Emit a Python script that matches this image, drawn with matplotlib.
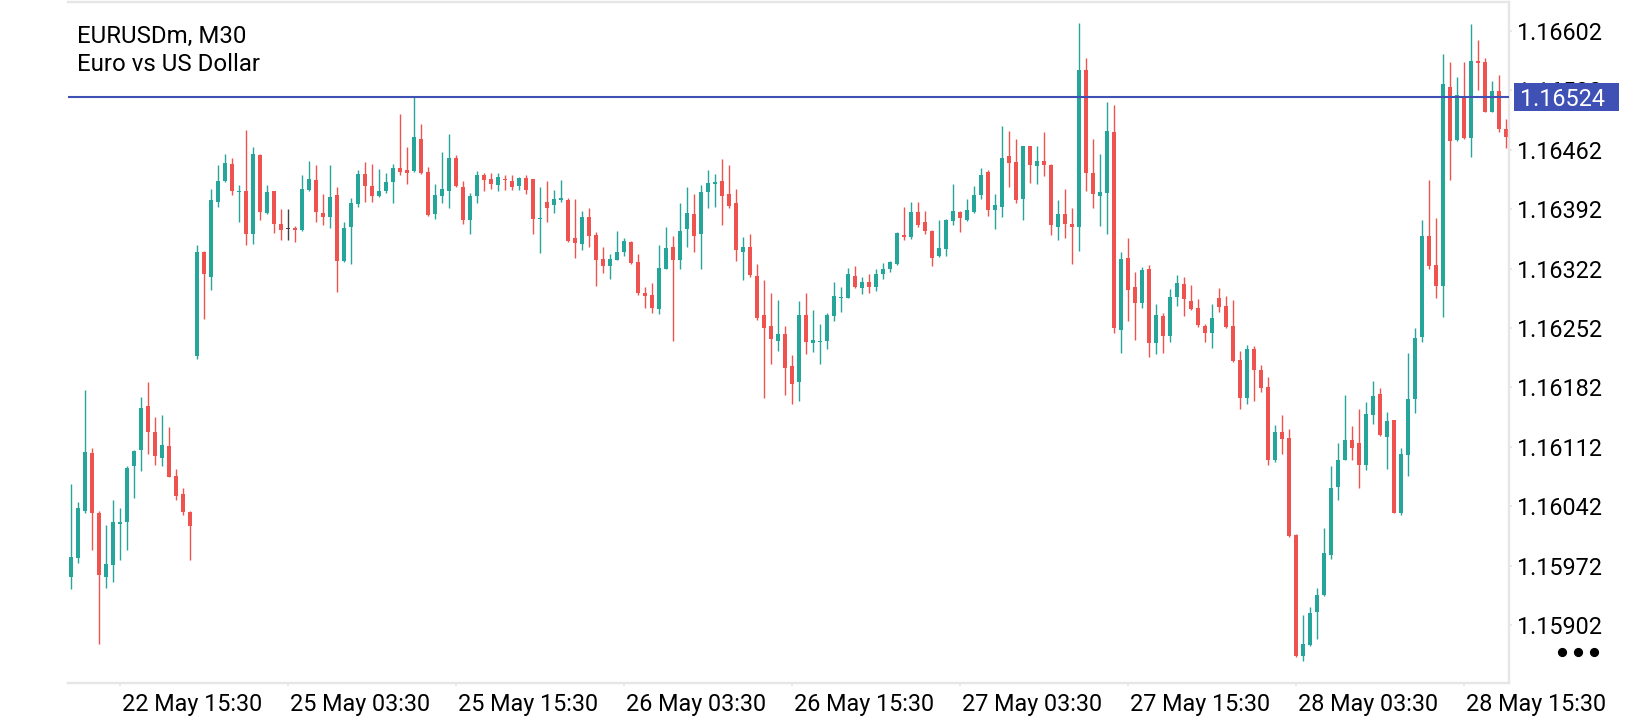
import matplotlib
matplotlib.use("Agg")
import matplotlib.pyplot as plt
import matplotlib.transforms as mtransforms
from matplotlib.patches import Rectangle
from matplotlib.lines import Line2D

plt.rcParams['font.family'] = ['Roboto', 'DejaVu Sans']

symbol_title = "EURUSDm, M30"
symbol_desc = "Euro vs US Dollar"

# M30 candles, oldest first
opens = [
    1.15959, 1.15981, 1.16036, 1.16105, 1.16034, 1.15959, 1.15973, 1.16021, 1.16023, 1.16089,
    1.16108, 1.16160, 1.16129, 1.16099, 1.16113, 1.16078, 1.16056, 1.16035, 1.16219, 1.16342,
    1.16312, 1.16401, 1.16425, 1.16445, 1.16412, 1.16413, 1.16363, 1.16456, 1.16388, 1.16413,
    1.16375, 1.16369, 1.16370, 1.16367, 1.16415, 1.16426, 1.16388, 1.16383, 1.16409, 1.16331,
    1.16371, 1.16398, 1.16434, 1.16419, 1.16407, 1.16413, 1.16424, 1.16441, 1.16438, 1.16437,
    1.16475, 1.16436, 1.16386, 1.16408, 1.16413, 1.16452, 1.16418, 1.16379, 1.16407, 1.16432,
    1.16428, 1.16420, 1.16428, 1.16425, 1.16419, 1.16429, 1.16428, 1.16380, 1.16400, 1.16397,
    1.16403, 1.16403, 1.16358, 1.16351, 1.16383, 1.16362, 1.16333, 1.16325, 1.16332, 1.16341,
    1.16353, 1.16330, 1.16293, 1.16291, 1.16274, 1.16322, 1.16347, 1.16332, 1.16369, 1.16386,
    1.16363, 1.16412, 1.16422, 1.16425, 1.16410, 1.16399, 1.16342, 1.16347, 1.16313, 1.16267,
    1.16254, 1.16237, 1.16245, 1.16207, 1.16188, 1.16267, 1.16234, 1.16235, 1.16237, 1.16266,
    1.16287, 1.16287, 1.16313, 1.16299, 1.16306, 1.16300, 1.16316, 1.16322, 1.16328, 1.16362,
    1.16359, 1.16389, 1.16377, 1.16366, 1.16337, 1.16345, 1.16378, 1.16389, 1.16379, 1.16389,
    1.16409, 1.16436, 1.16391, 1.16395, 1.16455, 1.16448, 1.16404, 1.16466, 1.16443, 1.16449,
    1.16444, 1.16371, 1.16386, 1.16374, 1.16371, 1.16556, 1.16435, 1.16408, 1.16411, 1.16483,
    1.16250, 1.16334, 1.16300, 1.16281, 1.16322, 1.16234, 1.16266, 1.16243, 1.16288, 1.16304,
    1.16284, 1.16276, 1.16254, 1.16246, 1.16287, 1.16278, 1.16254, 1.16214, 1.16169, 1.16227,
    1.16203, 1.16182, 1.16096, 1.16130, 1.16122, 1.16008, 1.15865, 1.15878, 1.15917, 1.15937,
    1.15985, 1.16065, 1.16097, 1.16120, 1.16116, 1.16091, 1.16150, 1.16174, 1.16124, 1.16143,
    1.16034, 1.16102, 1.16168, 1.16241, 1.16360, 1.16326, 1.16301, 1.16536, 1.16474, 1.16526,
    1.16476, 1.16567, 1.16566, 1.16507, 1.16531, 1.16487,
]
highs = [
    1.16068, 1.16047, 1.16179, 1.16111, 1.16036, 1.16020, 1.16049, 1.16040, 1.16089, 1.16108,
    1.16171, 1.16188, 1.16147, 1.16149, 1.16135, 1.16086, 1.16063, 1.16036, 1.16350, 1.16343,
    1.16416, 1.16444, 1.16457, 1.16452, 1.16420, 1.16485, 1.16465, 1.16457, 1.16420, 1.16414,
    1.16392, 1.16392, 1.16372, 1.16432, 1.16449, 1.16444, 1.16410, 1.16444, 1.16418, 1.16377,
    1.16405, 1.16438, 1.16448, 1.16445, 1.16439, 1.16435, 1.16445, 1.16504, 1.16465, 1.16525,
    1.16493, 1.16442, 1.16422, 1.16459, 1.16481, 1.16456, 1.16425, 1.16411, 1.16437, 1.16435,
    1.16435, 1.16435, 1.16432, 1.16432, 1.16430, 1.16432, 1.16428, 1.16418, 1.16425, 1.16415,
    1.16426, 1.16405, 1.16404, 1.16390, 1.16393, 1.16365, 1.16347, 1.16339, 1.16366, 1.16358,
    1.16354, 1.16339, 1.16300, 1.16305, 1.16350, 1.16371, 1.16360, 1.16399, 1.16418, 1.16410,
    1.16420, 1.16438, 1.16433, 1.16451, 1.16444, 1.16416, 1.16359, 1.16363, 1.16327, 1.16309,
    1.16293, 1.16285, 1.16254, 1.16220, 1.16284, 1.16293, 1.16273, 1.16257, 1.16270, 1.16306,
    1.16300, 1.16323, 1.16325, 1.16312, 1.16316, 1.16322, 1.16329, 1.16331, 1.16365, 1.16395,
    1.16400, 1.16400, 1.16390, 1.16367, 1.16379, 1.16380, 1.16422, 1.16390, 1.16404, 1.16419,
    1.16441, 1.16438, 1.16410, 1.16490, 1.16484, 1.16475, 1.16467, 1.16467, 1.16466, 1.16483,
    1.16445, 1.16403, 1.16416, 1.16394, 1.16612, 1.16570, 1.16475, 1.16457, 1.16518, 1.16515,
    1.16342, 1.16358, 1.16318, 1.16324, 1.16326, 1.16280, 1.16270, 1.16298, 1.16315, 1.16312,
    1.16303, 1.16286, 1.16257, 1.16280, 1.16299, 1.16290, 1.16285, 1.16225, 1.16232, 1.16231,
    1.16208, 1.16194, 1.16138, 1.16149, 1.16133, 1.16009, 1.15914, 1.15923, 1.15946, 1.16016,
    1.16089, 1.16117, 1.16173, 1.16137, 1.16156, 1.16165, 1.16189, 1.16181, 1.16153, 1.16144,
    1.16110, 1.16222, 1.16252, 1.16379, 1.16427, 1.16382, 1.16575, 1.16565, 1.16548, 1.16565,
    1.16610, 1.16592, 1.16570, 1.16543, 1.16550, 1.16498,
]
lows = [
    1.15944, 1.15975, 1.16034, 1.15990, 1.15880, 1.15945, 1.15953, 1.15979, 1.15990, 1.16052,
    1.16084, 1.16104, 1.16090, 1.16089, 1.16076, 1.16049, 1.16032, 1.15978, 1.16216, 1.16263,
    1.16297, 1.16395, 1.16424, 1.16409, 1.16377, 1.16350, 1.16351, 1.16379, 1.16386, 1.16364,
    1.16356, 1.16356, 1.16353, 1.16366, 1.16414, 1.16377, 1.16373, 1.16370, 1.16294, 1.16330,
    1.16327, 1.16395, 1.16400, 1.16401, 1.16406, 1.16411, 1.16399, 1.16432, 1.16422, 1.16436,
    1.16434, 1.16384, 1.16380, 1.16399, 1.16393, 1.16418, 1.16375, 1.16363, 1.16399, 1.16413,
    1.16416, 1.16413, 1.16415, 1.16415, 1.16415, 1.16410, 1.16363, 1.16340, 1.16377, 1.16388,
    1.16401, 1.16353, 1.16334, 1.16344, 1.16348, 1.16301, 1.16317, 1.16310, 1.16332, 1.16337,
    1.16328, 1.16291, 1.16276, 1.16270, 1.16268, 1.16321, 1.16237, 1.16322, 1.16347, 1.16341,
    1.16322, 1.16393, 1.16395, 1.16373, 1.16394, 1.16331, 1.16308, 1.16312, 1.16262, 1.16170,
    1.16210, 1.16225, 1.16173, 1.16162, 1.16166, 1.16221, 1.16224, 1.16210, 1.16227, 1.16260,
    1.16271, 1.16287, 1.16299, 1.16292, 1.16293, 1.16296, 1.16310, 1.16318, 1.16326, 1.16356,
    1.16357, 1.16371, 1.16363, 1.16325, 1.16336, 1.16337, 1.16373, 1.16365, 1.16378, 1.16388,
    1.16404, 1.16384, 1.16369, 1.16383, 1.16418, 1.16399, 1.16379, 1.16423, 1.16422, 1.16431,
    1.16362, 1.16356, 1.16358, 1.16327, 1.16343, 1.16414, 1.16394, 1.16372, 1.16363, 1.16246,
    1.16222, 1.16260, 1.16238, 1.16275, 1.16218, 1.16221, 1.16223, 1.16236, 1.16278, 1.16266,
    1.16273, 1.16253, 1.16235, 1.16229, 1.16271, 1.16252, 1.16212, 1.16157, 1.16162, 1.16166,
    1.16177, 1.16091, 1.16094, 1.16103, 1.16006, 1.15864, 1.15859, 1.15877, 1.15886, 1.15936,
    1.15980, 1.16049, 1.16096, 1.16097, 1.16063, 1.16085, 1.16139, 1.16125, 1.16086, 1.16034,
    1.16032, 1.16077, 1.16152, 1.16236, 1.16322, 1.16287, 1.16265, 1.16426, 1.16472, 1.16475,
    1.16453, 1.16532, 1.16506, 1.16506, 1.16483, 1.16464,
]
closes = [
    1.15982, 1.16040, 1.16106, 1.16034, 1.15961, 1.15974, 1.16023, 1.16023, 1.16087, 1.16107,
    1.16158, 1.16129, 1.16101, 1.16114, 1.16076, 1.16054, 1.16035, 1.16019, 1.16342, 1.16316,
    1.16403, 1.16425, 1.16446, 1.16413, 1.16414, 1.16363, 1.16457, 1.16389, 1.16412, 1.16374,
    1.16367, 1.16369, 1.16367, 1.16416, 1.16428, 1.16389, 1.16383, 1.16406, 1.16331, 1.16370,
    1.16399, 1.16434, 1.16419, 1.16408, 1.16413, 1.16424, 1.16441, 1.16436, 1.16435, 1.16477,
    1.16435, 1.16385, 1.16409, 1.16416, 1.16452, 1.16419, 1.16379, 1.16408, 1.16432, 1.16426,
    1.16422, 1.16430, 1.16426, 1.16418, 1.16429, 1.16415, 1.16381, 1.16382, 1.16394, 1.16404,
    1.16405, 1.16355, 1.16352, 1.16383, 1.16361, 1.16332, 1.16325, 1.16333, 1.16341, 1.16354,
    1.16329, 1.16293, 1.16290, 1.16275, 1.16323, 1.16346, 1.16332, 1.16366, 1.16387, 1.16361,
    1.16412, 1.16423, 1.16424, 1.16408, 1.16396, 1.16344, 1.16347, 1.16315, 1.16264, 1.16252,
    1.16239, 1.16245, 1.16205, 1.16186, 1.16267, 1.16236, 1.16238, 1.16237, 1.16267, 1.16290,
    1.16289, 1.16316, 1.16300, 1.16306, 1.16300, 1.16316, 1.16322, 1.16330, 1.16364, 1.16359,
    1.16389, 1.16373, 1.16366, 1.16334, 1.16346, 1.16379, 1.16390, 1.16382, 1.16391, 1.16409,
    1.16432, 1.16391, 1.16397, 1.16452, 1.16446, 1.16403, 1.16466, 1.16444, 1.16449, 1.16444,
    1.16373, 1.16386, 1.16375, 1.16371, 1.16556, 1.16435, 1.16410, 1.16412, 1.16484, 1.16252,
    1.16333, 1.16297, 1.16281, 1.16320, 1.16234, 1.16267, 1.16243, 1.16288, 1.16305, 1.16286,
    1.16274, 1.16256, 1.16246, 1.16264, 1.16277, 1.16253, 1.16213, 1.16169, 1.16227, 1.16202,
    1.16181, 1.16097, 1.16130, 1.16121, 1.16007, 1.15865, 1.15879, 1.15916, 1.15937, 1.15987,
    1.16064, 1.16097, 1.16120, 1.16111, 1.16090, 1.16151, 1.16172, 1.16126, 1.16142, 1.16034,
    1.16103, 1.16168, 1.16240, 1.16360, 1.16325, 1.16301, 1.16539, 1.16472, 1.16527, 1.16476,
    1.16567, 1.16564, 1.16507, 1.16531, 1.16487, 1.16477,
]

time_tick_pos = [7, 31, 55, 79, 103, 127, 151, 175, 199]
time_tick_labels = ["22 May 15:30", "25 May 03:30", "25 May 15:30", "26 May 03:30",
                    "26 May 15:30", "27 May 03:30", "27 May 15:30", "28 May 03:30",
                    "28 May 15:30"]
price_ticks = [1.16602, 1.16532, 1.16462, 1.16392, 1.16322, 1.16252,
               1.16182, 1.16112, 1.16042, 1.15972, 1.15902]
current_price = 1.16524

UP = '#26a69a'
DOWN = '#ef5350'
FLAT = '#424242'
FRAME = '#e6e6e6'
PRICE_BLUE = '#3f51b5'
FS = 16.8

W, H = 1640, 720
fig = plt.figure(figsize=(W / 100, H / 100), dpi=100)
ax = fig.add_axes([68 / W, 37 / H, (1509 - 68) / W, (718 - 37) / H])

n = len(opens)
xs = list(range(n))
cols = []
bottoms = []
heights = []
min_h = 0.000018
for o, c in zip(opens, closes):
    if c > o:
        cols.append(UP)
    elif c < o:
        cols.append(DOWN)
    else:
        cols.append(FLAT)
    lo, hi = min(o, c), max(o, c)
    if hi - lo < min_h:
        mid = (hi + lo) / 2
        lo, hi = mid - min_h / 2, mid + min_h / 2
    bottoms.append(lo)
    heights.append(hi - lo)

ax.vlines(xs, lows, highs, colors=cols, linewidth=1.0, zorder=2)
ax.bar(xs, heights, width=0.62, bottom=bottoms, color=cols, linewidth=0, zorder=2)

ax.axhline(current_price, color=PRICE_BLUE, linewidth=1.5, zorder=3)

ax.set_xlim(-0.47, 205.39)
ax.set_ylim(1.158336, 1.166362)

for side in ['top', 'right', 'bottom']:
    ax.spines[side].set_color(FRAME)
    ax.spines[side].set_linewidth(1.7)
ax.spines['left'].set_visible(False)

ax.yaxis.tick_right()
ax.set_yticks(price_ticks)
ax.set_yticklabels([f"{p:.5f}" for p in price_ticks])
ax.tick_params(axis='y', length=2.5, width=1.2, color=FRAME, pad=3, labelsize=FS)

ax.set_xticks(time_tick_pos)
ax.set_xticklabels(time_tick_labels)
ax.tick_params(axis='x', length=2.5, width=1.2, color=FRAME, pad=4.5, labelsize=FS)
shift = mtransforms.ScaledTranslation(2 / 100, 0, fig.dpi_scale_trans)
for lbl in ax.get_xticklabels():
    lbl.set_ha('left')
    lbl.set_transform(lbl.get_transform() + shift)

# current price badge on the price scale
y_px = ax.transData.transform((0, current_price))[1]
badge = Rectangle((1514, y_px - 14), 105, 28, transform=mtransforms.IdentityTransform(),
                  facecolor=PRICE_BLUE, edgecolor='none', zorder=5)
fig.add_artist(badge)
fig.text(1520 / W, y_px / H, f"{current_price:.5f}", color='white', fontsize=FS,
         ha='left', va='center_baseline', zorder=6)

# menu dots
fig.add_artist(Line2D([1562, 1578, 1594], [68, 68, 68], transform=mtransforms.IdentityTransform(),
                      linestyle='none', marker='o', markersize=5.6, color='black'))

fig.text(77 / W, 1 - 43 / H, symbol_title, fontsize=17.3, va='baseline')
fig.text(77 / W, 1 - 71 / H, symbol_desc, fontsize=17.3, va='baseline')

fig.savefig("out.png", dpi=100)
